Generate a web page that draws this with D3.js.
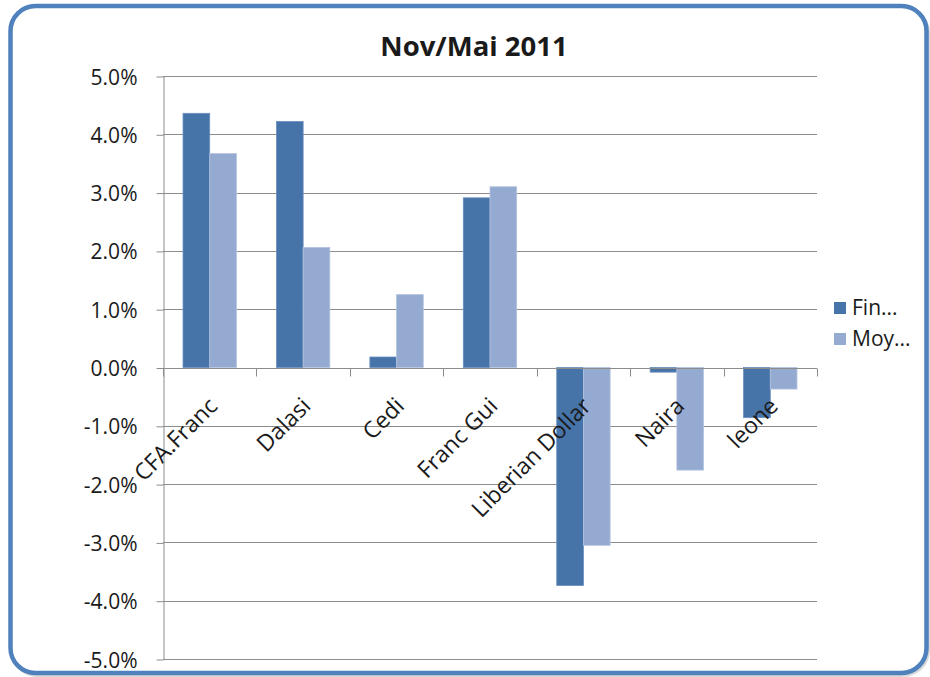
<!DOCTYPE html>
<html>
<head>
<meta charset="utf-8">
<script src="https://cdn.jsdelivr.net/npm/d3@7"></script>
<style>
  html, body { margin: 0; padding: 0; background: #ffffff; }
  svg { display: block; }
  text { font-family: "Open Sans", "Noto Sans", sans-serif; fill: #1a1a1a; }
</style>
</head>
<body>
<svg id="chart" width="930" height="677"></svg>
<script>
// ---- Data ----
const categories = ["CFA.Franc", "Dalasi", "Cedi", "Franc Gui", "Liberian Dollar", "Naira", "leone"];
const seriesNames = ["Fin...", "Moy..."];
const finValues = [0.0436, 0.0422, 0.0018, 0.0291, -0.0374, -0.0008, -0.0086];
const moyValues = [0.0367, 0.0206, 0.0125, 0.0310, -0.0305, -0.0176, -0.0037];
const yTickValues = [-0.05, -0.04, -0.03, -0.02, -0.01, 0, 0.01, 0.02, 0.03, 0.04, 0.05];
const yTickLabels = ["-5.0%", "-4.0%", "-3.0%", "-2.0%", "-1.0%", "0.0%", "1.0%", "2.0%", "3.0%", "4.0%", "5.0%"];
const title = "Nov/Mai 2011";

// ---- Styles ----
const colors = ["#4673a8", "#95aad1"];
const gridColor = "#8c8c8c";

const svg = d3.select("#chart");
const W = 930, H = 677;
const plot = { left: 163, right: 817, top: 76, bottom: 659 };

// Frame with shadow
svg.append("rect")
  .attr("x", 12).attr("y", 8).attr("width", 916).attr("height", 667)
  .attr("rx", 25).attr("ry", 25)
  .attr("fill", "none").attr("stroke", "#c8c8c8").attr("stroke-width", 4).attr("opacity", 0.7);
svg.append("rect")
  .attr("x", 10.5).attr("y", 6).attr("width", 916).attr("height", 667)
  .attr("rx", 25).attr("ry", 25)
  .attr("fill", "#ffffff").attr("stroke", "#4f81bd").attr("stroke-width", 4.5);

// Scales
const y = d3.scaleLinear().domain([-0.05, 0.05]).range([plot.bottom, plot.top]);
const x0 = d3.scaleBand().domain(categories).range([plot.left, plot.right])
  .paddingInner(1.5 / 3.5).paddingOuter(0.75 / 3.5);
const x1 = d3.scaleBand().domain(seriesNames).range([0, x0.bandwidth()]).padding(0);

// Gridlines
svg.append("g").selectAll("line").data(yTickValues).join("line")
  .attr("x1", plot.left).attr("x2", plot.right)
  .attr("y1", d => Math.round(y(d)) + 0.5).attr("y2", d => Math.round(y(d)) + 0.5)
  .attr("stroke", gridColor).attr("stroke-width", 1);

// Y axis
const yAxis = d3.axisLeft(y).tickValues(yTickValues)
  .tickFormat((d, i) => yTickLabels[i]).tickSizeInner(7).tickSizeOuter(0).tickPadding(19);
const gy = svg.append("g").attr("transform", `translate(${plot.left + 0.5},0.5)`).call(yAxis);
gy.select(".domain").attr("stroke", gridColor);
gy.selectAll(".tick line").attr("stroke", gridColor);
gy.selectAll(".tick text")
  .style("font-family", '"Open Sans", sans-serif').attr("font-size", 21).attr("fill", "#1a1a1a")
  .attr("dy", "0.36em");

// Bars
const table = categories.map((c, i) => ({ cat: c, vals: [finValues[i], moyValues[i]] }));
const groups = svg.append("g").selectAll("g").data(table).join("g")
  .attr("transform", d => `translate(${x0(d.cat)},0)`);
groups.selectAll("rect").data(d => d.vals.map((v, j) => ({ v, s: seriesNames[j], j }))).join("rect")
  .attr("x", d => x1(d.s))
  .attr("width", x1.bandwidth())
  .attr("y", d => Math.min(y(d.v), y(0)))
  .attr("height", d => Math.abs(y(d.v) - y(0)))
  .attr("fill", d => colors[d.j])
  .attr("stroke", d => d.j === 0 ? "#6a8fc0" : "#b4c4e0").attr("stroke-width", 0.8);

// Category axis at zero
const gx = svg.append("g").attr("transform", `translate(0,${Math.round(y(0)) + 0.5})`);
gx.append("line").attr("x1", plot.left).attr("x2", plot.right).attr("stroke", gridColor);
const step = x0.step();
const boundaries = d3.range(categories.length + 1).map(i => plot.left + i * step);
gx.selectAll("line.tk").data(boundaries).join("line").attr("class", "tk")
  .attr("x1", d => Math.round(d) + 0.5).attr("x2", d => Math.round(d) + 0.5)
  .attr("y1", 0).attr("y2", 8).attr("stroke", gridColor);

// Category labels (rotated)
svg.append("g").selectAll("text").data(categories).join("text")
  .attr("transform", d => `translate(${x0(d) + x0.bandwidth() / 2 + 9},${y(0) + 40}) rotate(-45)`)
  .attr("text-anchor", "end")
  .attr("font-size", 23)
  .text(d => d);

// Title
svg.append("text").attr("x", 474).attr("y", 56).attr("text-anchor", "middle")
  .attr("font-size", 27.5).attr("font-weight", "bold").attr("fill", "#111")
  .text(title);

// Legend
const legend = svg.append("g").selectAll("g").data(seriesNames).join("g")
  .attr("transform", (d, i) => `translate(834,${302 + i * 31})`);
legend.append("rect").attr("width", 12).attr("height", 12).attr("fill", (d, i) => colors[i]);
legend.append("text").attr("x", 18).attr("y", 13).attr("font-size", 21).text(d => d);
</script>
</body>
</html>
